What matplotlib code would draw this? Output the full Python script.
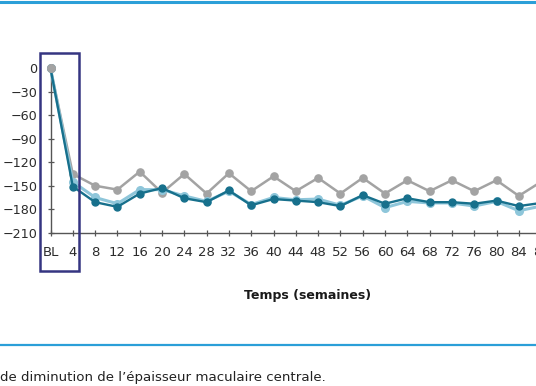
import matplotlib
matplotlib.use("Agg")
import matplotlib.pyplot as plt
from matplotlib.patches import Rectangle
from matplotlib.lines import Line2D

weeks = [0, 4, 8, 12, 16, 20, 24, 28, 32, 36, 40, 44, 48, 52, 56, 60, 64, 68, 72, 76, 80, 84, 88]
tick_labels = ["BL", "4", "8", "12", "16", "20", "24", "28", "32", "36", "40", "44",
               "48", "52", "56", "60", "64", "68", "72", "76", "80", "84", "88"]
gray_series = [0, -135, -150, -155, -132, -159, -135, -160, -134, -157, -138, -157,
               -140, -160, -140, -160, -143, -157, -143, -157, -143, -163, -145]
light_series = [0, -145, -165, -173, -155, -155, -163, -170, -157, -174, -165, -168,
                -167, -175, -163, -178, -170, -172, -172, -176, -170, -182, -176]
dark_series = [0, -151, -171, -177, -160, -153, -166, -171, -156, -175, -167, -169,
               -171, -176, -162, -173, -166, -171, -171, -173, -169, -176, -172]
y_ticks = [0, -30, -60, -90, -120, -150, -180, -210]
y_labels = ["0", "\u221230", "\u221260", "\u221290", "\u2212120", "\u2212150", "\u2212180", "\u2212210"]

W, H = 536, 386
fig = plt.figure(figsize=(W / 100, H / 100), dpi=100)
plt.rcParams['font.family'] = ['DejaVu Sans']

# axes: x=0 at px 50.5, 5.575 px per week; y: 0 at px 68.3, -210 at px 232.7
left_px, right_px = 50.5, 50.5 + 5.575 * 90
top_px, bot_px = 68.3, 232.7
ax = fig.add_axes([left_px / W, 1 - bot_px / H, (right_px - left_px) / W, (bot_px - top_px) / H])

gray_c = "#a3a3a3"
light_c = "#8ec6da"
dark_c = "#17708c"

ax.plot(weeks, gray_series, color=gray_c, lw=1.8, marker="o", ms=5.2, clip_on=False, zorder=3)
ax.plot(weeks, light_series, color=light_c, lw=2.2, marker="o", ms=5.5, clip_on=False, zorder=4)
ax.plot(weeks, dark_series, color=dark_c, lw=1.7, marker="o", ms=5, clip_on=False, zorder=5)
# BL point in gray on top
ax.plot([weeks[0]], [gray_series[0]], color=gray_c, marker="o", ms=5.5, clip_on=False, zorder=6)

ax.set_xlim(0, 90)
ax.set_ylim(-210, 0)
ax.set_xticks(weeks)
ax.set_xticklabels(tick_labels)
ax.set_yticks(y_ticks)
ax.set_yticklabels(y_labels)
for s in ["top", "right"]:
    ax.spines[s].set_visible(False)
for s in ["left", "bottom"]:
    ax.spines[s].set_color("#555555")
    ax.spines[s].set_linewidth(1.0)
ax.tick_params(axis="x", direction="inout", length=5, width=0.9, color="#555555",
               labelsize=9.5, labelcolor="#2b2b2b", pad=7)
ax.tick_params(axis="y", direction="inout", length=5, width=0.9, color="#555555",
               labelsize=9.2, labelcolor="#2b2b2b", pad=7)
ax.patch.set_alpha(0)

# x label
fig.text(307.5 / W, 1 - 296 / H, "Temps (semaines)", ha="center", va="center",
         fontsize=9, fontweight="bold", color="#1a1a1a")

# highlight box
fig.patches.append(Rectangle((39.5 / W, 1 - 271 / H), (79 - 39.5) / W, (271 - 53) / H,
                             transform=fig.transFigure, fill=False, edgecolor="#353581",
                             lw=1.8, zorder=10))

# blue rules
fig.lines.append(Line2D([0, 1], [1 - 1.5 / H, 1 - 1.5 / H], transform=fig.transFigure,
                        color="#2b9fd8", lw=2.2))
fig.lines.append(Line2D([0, 1], [1 - 345 / H, 1 - 345 / H], transform=fig.transFigure,
                        color="#2b9fd8", lw=1.6))

fig.text(0.5 / W, 1 - 377 / H, "de diminution de l\u2019épaisseur maculaire centrale.",
         ha="left", va="center", fontsize=9.6, color="#222222")

fig.savefig("out.png", dpi=100)
